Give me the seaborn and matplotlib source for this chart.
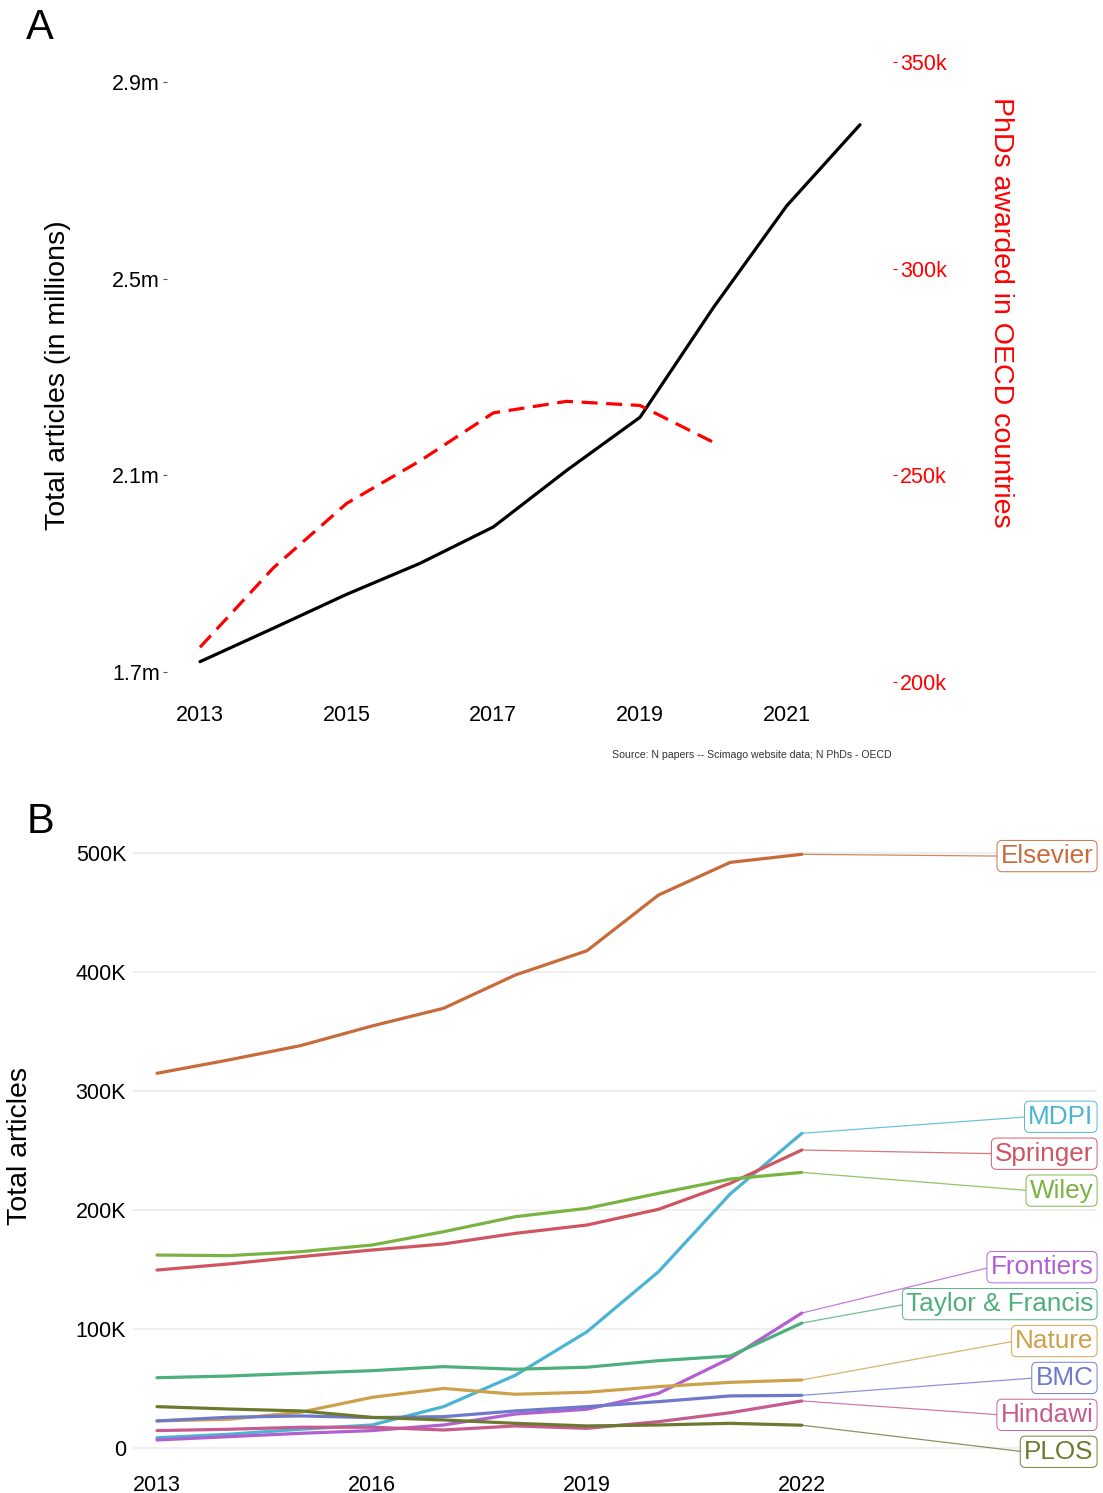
import numpy as np
import pandas as pd
import matplotlib
matplotlib.use("Agg")
import matplotlib.pyplot as plt
import seaborn as sns

# ---------------- data ----------------
# panel A: total articles (millions) and OECD PhDs (thousands)
years_a = [2013, 2014, 2015, 2016, 2017, 2018, 2019, 2020, 2021, 2022]
articles_m = [1.721, 1.789, 1.858, 1.921, 1.995, 2.110, 2.218, 2.441, 2.648, 2.813]
phd_years = [2013, 2014, 2015, 2016, 2017, 2018, 2019, 2020]
phds_k = [208.4, 227.6, 243.2, 253.5, 265.1, 267.9, 266.9, 258.0]

# panel B: articles per publisher (thousands)
years_b = [2013, 2014, 2015, 2016, 2017, 2018, 2019, 2020, 2021, 2022]
elsevier = [314.6, 325.8, 337.8, 354.3, 369.2, 397.1, 417.5, 464.3, 491.7, 498.5]
mdpi = [8.6, 11.5, 15.7, 19.3, 34.7, 61.0, 97.5, 148.0, 213.3, 264.2]
springer = [149.4, 154.5, 160.6, 166.2, 171.3, 180.2, 187.2, 200.4, 222.2, 250.2]
wiley = [162.0, 161.5, 164.8, 170.4, 181.6, 194.2, 201.2, 213.8, 225.8, 231.4]
frontiers = [6.7, 9.5, 12.3, 14.6, 19.3, 28.5, 32.5, 45.9, 75.3, 113.3]
taylor_francis = [59.0, 60.4, 62.7, 64.9, 68.3, 66.1, 67.8, 73.3, 77.2, 104.9]
nature = [22.7, 24.1, 30.0, 42.5, 50.0, 45.1, 46.8, 51.5, 55.1, 57.1]
bmc = [22.7, 25.8, 26.9, 25.5, 26.3, 31.1, 34.7, 38.9, 43.7, 44.2]
hindawi = [14.6, 15.7, 17.4, 17.4, 15.1, 18.5, 16.5, 22.1, 29.6, 39.5]
plos = [34.7, 32.7, 31.1, 25.7, 23.5, 20.7, 18.5, 19.3, 20.7, 19.1]

publishers = ["Elsevier", "MDPI", "Springer", "Wiley", "Frontiers",
              "Taylor & Francis", "Nature", "BMC", "Hindawi", "PLOS"]
series = [elsevier, mdpi, springer, wiley, frontiers,
          taylor_francis, nature, bmc, hindawi, plos]
colors = ["#c96a3b", "#4bb3d3", "#cf5561", "#79b443", "#b25fd0",
          "#4daf7c", "#cca14c", "#6e79cc", "#c75a8f", "#6b7a2f"]
palette = dict(zip(publishers, colors))

df_b = pd.DataFrame({
    "year": np.tile(years_b, len(publishers)),
    "articles": np.concatenate(series),
    "publisher": np.repeat(publishers, len(years_b)),
})

# ---------------- style ----------------
sns.set_theme(style="white")
plt.rcParams["font.family"] = ["Liberation Sans", "DejaVu Sans"]
plt.rcParams["text.color"] = "black"

W, H = 1103, 1493
fig = plt.figure(figsize=(W / 100, H / 100), dpi=100)


def px_axes(left, top, right, bottom):
    return fig.add_axes([left / W, 1 - bottom / H, (right - left) / W, (bottom - top) / H])


# ================= panel A =================
ax = px_axes(167, 50, 893, 690)
ax2 = ax.twinx()

sns.lineplot(x=years_a, y=articles_m, ax=ax, color="black", linewidth=2.3)
sns.lineplot(x=phd_years, y=phds_k, ax=ax2, color="red", linewidth=2.3)
ax2.lines[0].set_dashes((5, 2.7))

ax.set_xlim(2012.55, 2022.45)
ax.set_ylim(1.6634, 2.965)
ax2.set_ylim(198.06, 352.9)

ax.set_xticks([2013, 2015, 2017, 2019, 2021])
ax.set_yticks([1.7, 2.1, 2.5, 2.9])
ax.set_yticklabels([f"{v:.1f}m" for v in [1.7, 2.1, 2.5, 2.9]])
ax2.set_yticks([200, 250, 300, 350])
ax2.set_yticklabels([f"{v}k" for v in [200, 250, 300, 350]])

for a in (ax, ax2):
    for s in a.spines.values():
        s.set_visible(False)
    a.grid(False)
    a.set_xlabel("")
    a.set_ylabel("")

ax.tick_params(axis="x", length=0, pad=11, labelsize=15.5, labelcolor="black")
ax.tick_params(axis="y", left=True, length=3, width=0.8, color="#555555", pad=2,
               labelsize=15.5, labelcolor="black")
ax2.tick_params(axis="y", right=True, length=3, width=0.8, color="red", pad=2,
                labelsize=15.5, labelcolor="red")

fig.text(58 / W, 1 - 375 / H, "Total articles (in millions)", rotation=90,
         ha="center", va="center", fontsize=20.5, color="black")
fig.text(1001 / W, 1 - 312 / H, "PhDs awarded in OECD countries", rotation=270,
         ha="center", va="center", fontsize=20.5, color="red")
fig.text(892 / W, 1 - 755 / H, "Source: N papers -- Scimago website data; N PhDs - OECD",
         ha="right", va="center", fontsize=7.6, color="#333333")
fig.text(40 / W, 1 - 28 / H, "A", ha="center", va="center", fontsize=30, color="black")

# ================= panel B =================
axb = px_axes(133, 840, 1097, 1465)
sns.lineplot(data=df_b, x="year", y="articles", hue="publisher",
             hue_order=publishers, palette=palette, linewidth=2.3,
             legend=False, ax=axb)

ymin_b = -14.3
axb.set_xlim(2012.665, 2026.12)
axb.set_ylim(ymin_b, 510.5)
axb.set_xticks([2013, 2016, 2019, 2022])
axb.set_yticks([0, 100, 200, 300, 400, 500])
axb.set_yticklabels(["0", "100K", "200K", "300K", "400K", "500K"])
for s in axb.spines.values():
    s.set_visible(False)
axb.grid(False)
axb.yaxis.grid(True, color="#ebebeb", linewidth=1.1)
axb.set_axisbelow(True)
axb.tick_params(axis="both", length=0, labelsize=15.5, labelcolor="black")
axb.tick_params(axis="x", pad=7)
axb.tick_params(axis="y", pad=5)
axb.set_xlabel("")
axb.set_ylabel("")

fig.text(20 / W, 1 - 1146 / H, "Total articles", rotation=90,
         ha="center", va="center", fontsize=20.5, color="black")
fig.text(40 / W, 1 - 822 / H, "B", ha="center", va="center", fontsize=30, color="black")


# end labels pushed apart like ggrepel
def spread_labels(ends, gap, floor):
    order = sorted(range(len(ends)), key=lambda i: -ends[i])
    groups = []
    for i in order:
        groups.append([[i], ends[i]])
        while len(groups) > 1:
            a, b = groups[-2], groups[-1]
            a_bottom = a[1] - gap * (len(a[0]) - 1)
            if a_bottom - b[1] >= gap:
                break
            members = a[0] + b[0]
            mean = np.mean([ends[j] for j in members])
            groups[-2:] = [[members, mean + gap * (len(members) - 1) / 2]]
    last = groups[-1]
    bottom = last[1] - gap * (len(last[0]) - 1)
    if bottom < floor:
        last[1] += floor - bottom
    pos = {}
    for members, top in groups:
        for k, j in enumerate(members):
            pos[j] = top - gap * k
    return [pos[i] for i in range(len(ends))]


last_vals = [s[-1] for s in series]
label_y = [v - 1.5 for v in spread_labels(last_vals, 31.0, ymin_b + 12.6)]
label_x = 2026.07

for name, col, yend, ylab in zip(publishers, colors, last_vals, label_y):
    axb.annotate(name, xy=(years_b[-1], yend), xytext=(label_x, ylab),
                 ha="right", va="center", fontsize=18.8, color=col,
                 bbox=dict(boxstyle="round,pad=0.14,rounding_size=0.2",
                           fc="white", ec=col, lw=0.7, alpha=0.95),
                 arrowprops=dict(arrowstyle="-", color=col, lw=0.9, alpha=0.8,
                                 shrinkA=0, shrinkB=0, relpos=(0, 0.5)),
                 annotation_clip=False)

fig.savefig("out.png", dpi=100)
